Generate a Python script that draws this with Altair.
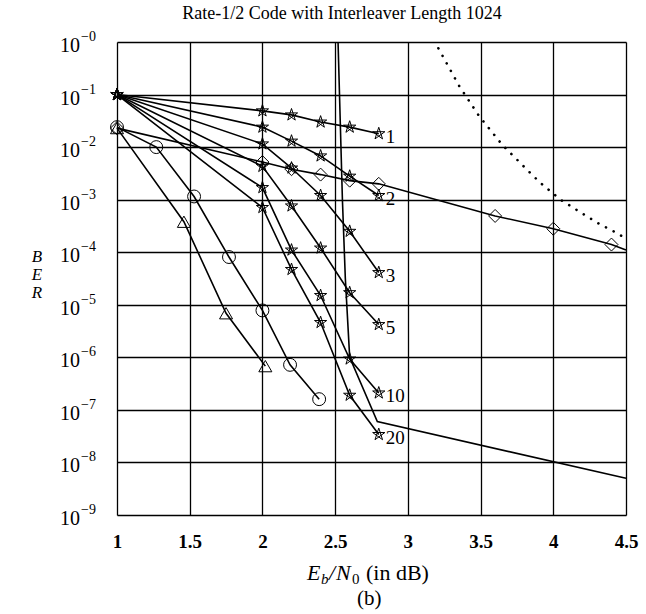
import altair as alt
import pandas as pd

# ---------------- data ----------------
x_star = [1.0, 2.0, 2.2, 2.4, 2.6, 2.8]
ber_it1 = [1.0e-1, 4.9e-2, 4.1e-2, 3.0e-2, 2.4e-2, 1.8e-2]
ber_it2 = [1.0e-1, 2.4e-2, 1.3e-2, 6.8e-3, 2.8e-3, 1.2e-3]
ber_it3 = [1.0e-1, 1.15e-2, 4.0e-3, 1.2e-3, 2.5e-4, 4.1e-5]
ber_it5 = [1.0e-1, 4.3e-3, 7.6e-4, 1.2e-4, 1.7e-5, 4.2e-6]
ber_it10 = [1.0e-1, 1.7e-3, 1.1e-4, 1.5e-5, 9.3e-7, 2.1e-7]
ber_it20 = [1.0e-1, 7.1e-4, 4.7e-5, 4.6e-6, 1.9e-7, 3.4e-8]
iter_labels = ["1", "2", "3", "5", "10", "20"]

x_diamond = [1.0, 2.0, 2.2, 2.4, 2.6, 2.8, 3.6, 4.0, 4.4]
ber_diamond = [2.3e-2, 5.2e-3, 3.8e-3, 3.0e-3, 2.3e-3, 2.0e-3, 4.9e-4, 2.8e-4, 1.4e-4]
x_diamond_end = 4.5
ber_diamond_end = 1.1e-4

x_circle = [1.0, 1.27, 1.53, 1.77, 2.0, 2.19, 2.39]
ber_circle = [2.4e-2, 1.0e-2, 1.15e-3, 8.1e-5, 7.8e-6, 7.2e-7, 1.6e-7]

x_triangle = [1.0, 1.46, 1.75, 2.02]
ber_triangle = [2.3e-2, 3.8e-4, 6.9e-6, 6.8e-7]

x_bound = [2.52, 2.55, 2.57, 2.60, 2.79, 4.5]
ber_bound = [1.0, 1.0e-3, 3.2e-5, 1.0e-6, 6.0e-8, 5.0e-9]

x_dotted = [3.21, 3.35, 3.49, 3.65, 3.80, 3.91, 4.05, 4.18, 4.32, 4.44, 4.5]
ber_dotted = [7.6e-1, 1.5e-1, 3.9e-2, 1.1e-2, 4.2e-3, 2.1e-3, 1.0e-3, 5.9e-4, 3.4e-4, 2.3e-4, 1.8e-4]

x_ticks = [1, 1.5, 2, 2.5, 3, 3.5, 4, 4.5]
y_exponents = [0, -1, -2, -3, -4, -5, -6, -7, -8, -9]

title_text = "Rate-1/2 Code with Interleaver Length 1024"
ytitle_letters = ["B", "E", "R"]

# ---------------- tables ----------------
SERIF = "Liberation Serif"
star_path = "M0,-1L0.588,0.809L-0.951,-0.309L0.951,-0.309L-0.588,0.809Z"

line_rows, point_rows = [], []
star_series = [ber_it1, ber_it2, ber_it3, ber_it5, ber_it10, ber_it20]
for lab, ys in zip(iter_labels, star_series):
    for i, (x, y) in enumerate(zip(x_star, ys)):
        line_rows.append(dict(series="it" + lab, i=i, x=x, ber=y))
        point_rows.append(dict(series="it" + lab, mk="star", x=x, ber=y))

for name, mk, xs, ys in [("diamond", "diamond", x_diamond, ber_diamond),
                         ("circle", "circle", x_circle, ber_circle),
                         ("triangle", "triangle", x_triangle, ber_triangle)]:
    for i, (x, y) in enumerate(zip(xs, ys)):
        line_rows.append(dict(series=name, i=i, x=x, ber=y))
        point_rows.append(dict(series=name, mk=mk, x=x, ber=y))
line_rows.append(dict(series="diamond", i=len(x_diamond), x=x_diamond_end, ber=ber_diamond_end))
for i, (x, y) in enumerate(zip(x_bound, ber_bound)):
    line_rows.append(dict(series="bound", i=i, x=x, ber=y))

df_lines = pd.DataFrame(line_rows)
df_points = pd.DataFrame(point_rows)
df_dot = pd.DataFrame({"x": x_dotted, "ber": ber_dotted})
df_lab = pd.DataFrame({"x": [x_star[-1]] * 6, "ber": [s[-1] for s in star_series], "lab": iter_labels})
df_ylab = pd.DataFrame({"val": [10.0 ** e for e in y_exponents],
                        "base": ["10"] * len(y_exponents),
                        "sup": ["\u2212" + str(-e) for e in y_exponents]})

xscale = alt.Scale(domain=[1, 4.5], nice=False, zero=False)
yscale = alt.Scale(type="log", domain=[1e-9, 1], nice=False)

xaxis = alt.Axis(values=x_ticks, format="~g", grid=True, gridColor="black", gridOpacity=1,
                 gridWidth=1.3, ticks=False, domain=False, labelFont=SERIF, labelFontSize=19,
                 labelFontWeight="bold", labelColor="black", labelPadding=17, title=None,
                 labelFlush=False)
yaxis = alt.Axis(values=[10.0 ** e for e in y_exponents], grid=True, gridColor="black",
                 gridOpacity=1, gridWidth=1.3, ticks=False, domain=False, labels=False,
                 title=None)

X = alt.X("x:Q", scale=xscale, axis=xaxis)
Y = alt.Y("ber:Q", scale=yscale, axis=yaxis)

lines = alt.Chart(df_lines).mark_line(color="black", strokeWidth=1.6).encode(
    x=X, y=Y, detail="series:N", order="i:Q")

points = alt.Chart(df_points).mark_point(filled=False, color="black", strokeWidth=1.0, opacity=1).encode(
    x="x:Q", y="ber:Q",
    shape=alt.Shape("mk:N", scale=alt.Scale(domain=["star", "circle", "diamond", "triangle"],
                                             range=[star_path, "circle", "diamond", "triangle-up"]),
                    legend=None),
    size=alt.Size("mk:N", scale=alt.Scale(domain=["star", "circle", "diamond", "triangle"],
                                           range=[165, 170, 200, 230]), legend=None))

dotted = alt.Chart(df_dot).mark_line(color="black", strokeWidth=2.6, strokeDash=[0.1, 8.5],
                                     strokeCap="round").encode(x="x:Q", y="ber:Q")

labels = alt.Chart(df_lab).mark_text(align="left", baseline="middle", dx=7, dy=3,
                                     font=SERIF, fontSize=19, color="black").encode(
    x="x:Q", y="ber:Q", text="lab:N")

ybase = alt.Chart(df_ylab).mark_text(align="right", baseline="middle", dy=4,
                                     font=SERIF, fontSize=20, color="black").encode(
    x=alt.value(-37), y=alt.Y("val:Q"), text="base:N")
ysup = alt.Chart(df_ylab).mark_text(align="left", baseline="middle", dy=-5,
                                    font=SERIF, fontSize=14, color="black").encode(
    x=alt.value(-36), y=alt.Y("val:Q"), text="sup:N")

def txt(t, x, y, size=22, style="italic", align="left"):
    return alt.Chart(pd.DataFrame({"t": [t]})).mark_text(
        align=align, baseline="alphabetic", font=SERIF, fontSize=size, fontStyle=style,
        color="black").encode(x=alt.value(x), y=alt.value(y), text="t:N")

# stacked italic B / E / R y-axis title
ytitle = None
for k, letter in enumerate(ytitle_letters):
    t = txt(letter, -80, 220 + 18 * k, 17, "italic", "center")
    ytitle = t if ytitle is None else ytitle + t

base_y = 538
xtitle = (txt("E", 190, base_y) + txt("b", 204, base_y + 4, 15) + txt("/", 212, base_y)
          + txt("N", 219, base_y) + txt("0", 235, base_y + 4, 15, "normal")
          + txt("(in dB)", 249, base_y, 22, "normal"))
caption = txt("(b)", 240, 563, 21, "normal")
top_title = txt(title_text, 225, -23, 18, "normal", "center")

chart = alt.layer(lines, dotted, points, labels, ybase, ysup, ytitle, xtitle, caption,
                  top_title).properties(
    width=509, height=473,
    padding={"left": 117, "top": 42, "right": 20, "bottom": 99},
    autosize=alt.AutoSizeParams(type="none"),
).configure_view(stroke="black", strokeWidth=1.6).configure(background="white")

chart.save("out.html", embed_options={"renderer": "svg", "actions": False})
